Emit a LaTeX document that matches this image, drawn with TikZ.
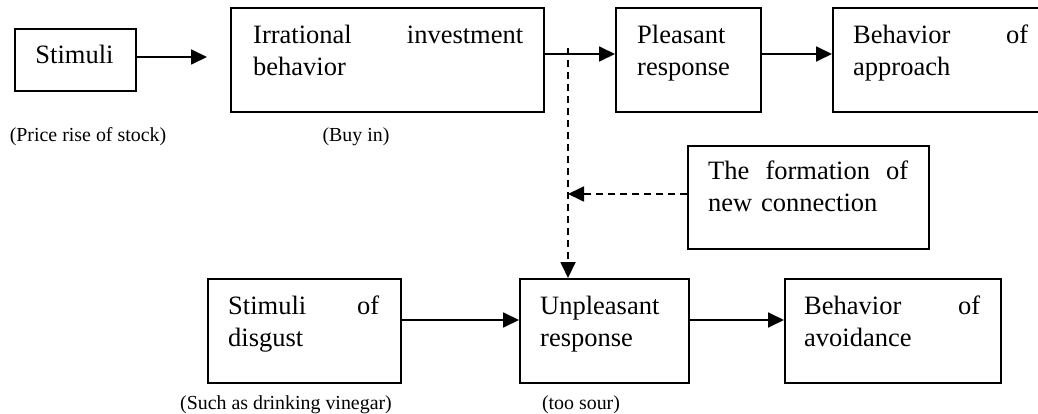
\documentclass[tikz,border=0pt]{standalone}
\usepackage{fontspec}
\setmainfont{Liberation Serif}
\usetikzlibrary{arrows.meta}
\begin{document}
\begin{tikzpicture}[x=1pt,y=-1pt,
  box/.style={draw, line width=1.9pt, inner sep=0pt, anchor=north west},
  txt/.style={anchor=base west, inner sep=0pt, align=left, font=\fontsize{26.5}{32}\selectfont},
  note/.style={inner sep=0pt, font=\fontsize{19.9}{23}\selectfont},
  arr/.style={line width=1.8pt, -{Triangle[length=16pt,width=15pt]}},
  darr/.style={arr, dash pattern=on 7pt off 5pt}]
\useasboundingbox (0,0) rectangle (1038,414);
% boxes
\node[box, minimum width=121pt, minimum height=62pt] (stim) at (14,28) {};
\node[box, minimum width=313pt, minimum height=104pt] (irr) at (230,7) {};
\node[box, minimum width=145pt, minimum height=104pt] (pls) at (615,7) {};
\node[box, minimum width=223pt, minimum height=104pt] (app) at (832,7) {};
\node[box, minimum width=241pt, minimum height=103pt] (form) at (687,145) {};
\node[box, minimum width=193pt, minimum height=104pt] (dis) at (207,278) {};
\node[box, minimum width=169pt, minimum height=104pt] (unp) at (519,278) {};
\node[box, minimum width=216pt, minimum height=104pt] (avo) at (784,278) {};
% texts
\node[txt, anchor=base] (stimt) at (74.5,64) {Stimuli};
\node[txt, text width=270pt] (irrt) at (253,44) {Irrational\hfill investment\\behavior};
\node[txt, text width=110pt] (plst) at (637,44) {Pleasant\\response};
\node[txt, text width=175pt] (appt) at (853,44) {Behavior\hfill of\\approach};
\node[txt, text width=200pt] (formt) at (708,180) {The\hfill formation\hfill of\\new connection};
\node[txt, text width=151pt] (dist) at (228,314) {Stimuli\hfill of\\disgust};
\node[txt, text width=130pt] (unpt) at (540,314) {Unpleasant\\response};
\node[txt, text width=176pt] (avot) at (804,314) {Behavior\hfill of\\avoidance};
% notes
\node[note] (n1) at (88,137) {(Price rise of stock)};
\node[note] (n2) at (356,137) {(Buy in)};
\node[note] (n3) at (286,405) {(Such as drinking vinegar)};
\node[note] (n4) at (581,405) {(too sour)};
% connectors
\coordinate (a1) at (207,57);
\coordinate (y1) at (0,54);
\coordinate (dtop) at (568,48);
\coordinate (dmid) at (568,194);
\coordinate (y2) at (0,320);
\draw[arr] (stim.east |- a1) -- (a1);
\draw[arr] (irr.east |- y1) -- (pls.west |- y1);
\draw[arr] (pls.east |- y1) -- (app.west |- y1);
\draw[darr] (dtop) -- (unp.north -| dtop);
\draw[darr] (form.west |- dmid) -- (dmid);
\draw[arr] (dis.east |- y2) -- (unp.west |- y2);
\draw[arr] (unp.east |- y2) -- (avo.west |- y2);
\end{tikzpicture}
\end{document}
